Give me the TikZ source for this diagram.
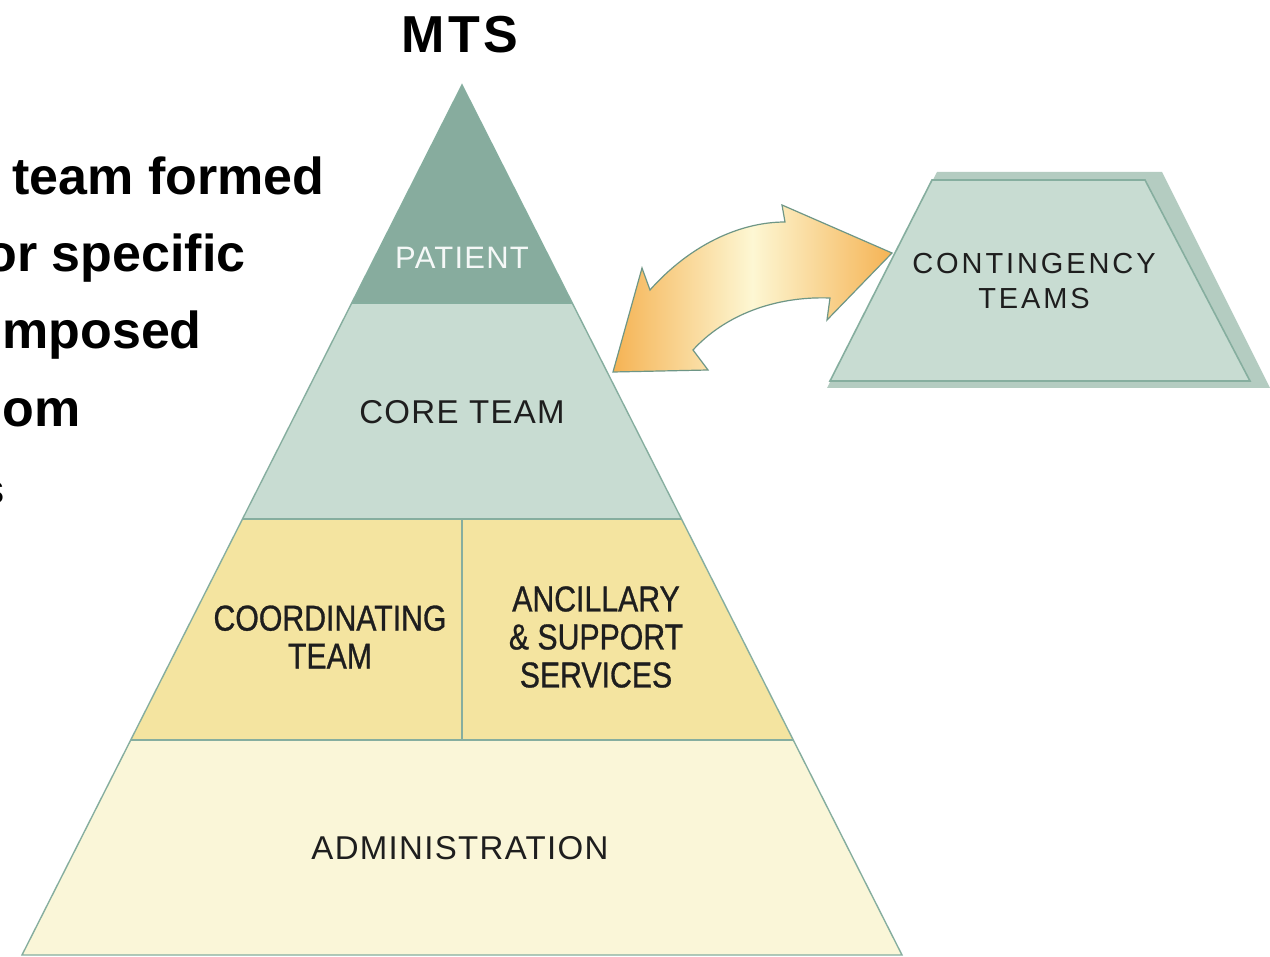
\documentclass[tikz,border=0pt]{standalone}
\usepackage{fontspec}
\setmainfont{Liberation Sans}
\newfontfamily\titlefont[LetterSpace=7]{Liberation Sans}
\newfontfamily\widefont[LetterSpace=10]{Liberation Sans}
\newfontfamily\tightfont[LetterSpace=4]{Liberation Sans}
\newfontfamily\narrowfont[FakeStretch=0.84, FakeBold=0.8]{Liberation Sans}
\usepackage{xcolor}
\usepackage{tikz}
\usetikzlibrary{calc,positioning}
\definecolor{patientgreen}{HTML}{87AC9E}
\definecolor{coregreen}{HTML}{C8DCD2}
\definecolor{backgreen}{HTML}{B4CCC1}
\definecolor{midyellow}{HTML}{F4E4A0}
\definecolor{baseyellow}{HTML}{FAF6D8}
\definecolor{edgegreen}{HTML}{86AE9F}
\definecolor{arroworange}{HTML}{F5B354}
\definecolor{arrowcream}{HTML}{FDF7D3}
\definecolor{arrowedge}{HTML}{6E9686}
\definecolor{labelgray}{HTML}{1E1E1E}

\begin{document}
\begin{tikzpicture}[x=0.5pt, y=-0.5pt, node distance=2cm, on grid,
    layer/.style={draw=edgegreen, line width=0.7pt},
    level/.style={inner sep=0pt, align=center, text=labelgray, font=\tightfont\fontsize{16.5}{19}\selectfont},
    split/.style={inner sep=0pt, align=center, text=labelgray, font=\narrowfont\fontsize{18}{19}\selectfont},
    bodytext/.style={inner sep=0pt, anchor=base west, font=\bfseries\fontsize{26}{31}\selectfont}]
           \useasboundingbox (0,0) rectangle (1270,957);
           \clip (0,0) rectangle (1270,957);
           \fill[white] (0,0) rectangle (1270,957);

           \fill[baseyellow] (131,740) -- (793,740) -- (902,955) -- (22,955) -- cycle;
           \fill[midyellow] (243,519) -- (681,519) -- (793,740) -- (131,740) -- cycle;
           \fill[coregreen] (352,303) -- (572,303) -- (681,519) -- (243,519) -- cycle;
           \fill[patientgreen] (462,85) -- (572,303) -- (352,303) -- cycle;
           \draw[layer] (462,85) -- (902,955) -- (22,955) -- cycle;
           \draw[layer] (352,303) -- (572,303) (243,519) -- (681,519) (131,740) -- (793,740) (462,519) -- (462,740);

           \fill[backgreen] (937,172) -- (1162,172) -- (1270,388) -- (827,388) -- cycle;
           \filldraw[fill=coregreen, draw=edgegreen, line width=0.8pt] (932,180) -- (1145,180) -- (1250,381) -- (830,381) -- cycle;

           \shadedraw[left color=arroworange, right color=arroworange, middle color=arrowcream, draw=arrowedge, line width=0.6pt]
            (613,372) -- (642,268) -- (650,290) .. controls (690,245) and (740,222) .. (785,222) -- (782,205) -- (892,253)
            -- (827,320) -- (830,298) .. controls (775,296) and (725,315) .. (693,350) -- (708,370) -- cycle;

           \node[inner sep=0pt, font=\titlefont\bfseries\fontsize{26}{30}\selectfont] (mts) at (460,35) {MTS};
           \node[level, text=white!92!patientgreen, font=\tightfont\fontsize{15.5}{19}\selectfont] (patient) at (462,258) {PATIENT};
           \node[level] (core_team) [below=77pt of patient] {CORE TEAM};
           \node[split] (coordinating) at (330,637) {COORDINATING\\TEAM};
           \node[split] (ancillary) [right=133pt of coordinating] {ANCILLARY\\\& SUPPORT\\SERVICES};
           \node[level] (administration) at (460,848) {ADMINISTRATION};
           \node[level, font=\widefont\fontsize{14.5}{17.5}\selectfont] (contingency) at (1034,281) {CONTINGENCY\\TEAMS};

           \node[bodytext] (line_1) at (12,195) {team formed};
           \node[bodytext] (line_2) at (-15,272) {or specific};
           \node[bodytext] (line_3) at (2,349) {mposed};
           \node[bodytext] (line_4) at (2,427) {om};
           \node[inner sep=0pt, anchor=base east, font=\fontsize{20}{24}\selectfont] (line_5) at (5,503) {s};
        \end{tikzpicture}
\end{document}
